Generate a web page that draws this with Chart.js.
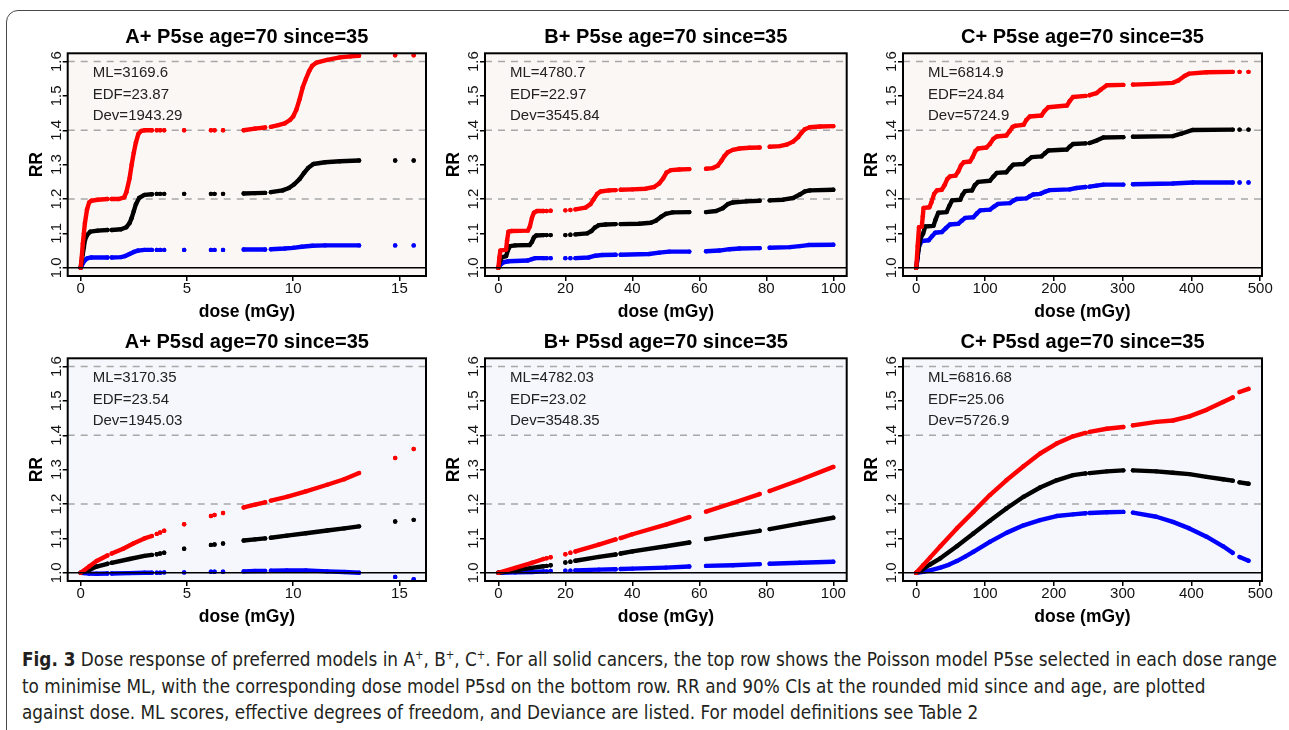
<!DOCTYPE html>
<html>
<head>
<meta charset="utf-8">
<script src="https://cdn.jsdelivr.net/npm/chart.js@4.4.1/dist/chart.umd.min.js"></script>
<style>
html, body { margin: 0; padding: 0; background: #fff; width: 1289px; height: 730px; overflow: hidden; }
#frame { position: absolute; left: 6px; top: 10px; width: 1320px; height: 800px; border: 1.3px solid #4a4a4a; border-radius: 12px; }
canvas { position: absolute; }
#cap { position: absolute; left: 22px; top: 646px; font-family: 'Liberation Sans Narrow', 'DejaVu Sans Condensed', 'Liberation Sans', sans-serif; font-size: 20px; line-height: 26.5px; color: #231f20; white-space: nowrap; transform-origin: 0 0; }
#cap sup { font-size: 12px; line-height: 0; vertical-align: 7px; }
</style>
</head>
<body>
<div id="frame"></div>
<div id="cap">
  <div><span id="line1"><b>Fig. 3</b> Dose response of preferred models in A<sup>+</sup>, B<sup>+</sup>, C<sup>+</sup>. For all solid cancers, the top row shows the Poisson model P5se selected in each dose range</span></div>
  <div>to minimise ML, with the corresponding dose model P5sd on the bottom row. RR and 90% CIs at the rounded mid since and age, are plotted</div>
  <div>against dose. ML scores, effective degrees of freedom, and Deviance are listed. For model definitions see Table 2</div>
</div>
<script>
// panel titles and fit statistics
const titles = [
    'A+ P5se age=70 since=35', 'B+ P5se age=70 since=35', 'C+ P5se age=70 since=35',
    'A+ P5sd age=70 since=35', 'B+ P5sd age=70 since=35', 'C+ P5sd age=70 since=35'
];
const statsASe = ['ML=3169.6', 'EDF=23.87', 'Dev=1943.29'];
const statsBSe = ['ML=4780.7', 'EDF=22.97', 'Dev=3545.84'];
const statsCSe = ['ML=6814.9', 'EDF=24.84', 'Dev=5724.9'];
const statsASd = ['ML=3170.35', 'EDF=23.54', 'Dev=1945.03'];
const statsBSd = ['ML=4782.03', 'EDF=23.02', 'Dev=3548.35'];
const statsCSd = ['ML=6816.68', 'EDF=25.06', 'Dev=5726.9'];

// axes
const xTicksA = [0, 5, 10, 15];
const xTicksB = [0, 20, 40, 60, 80, 100];
const xTicksC = [0, 100, 200, 300, 400, 500];
const xRangeA = [-0.61, 16.25];
const xRangeB = [-4, 104];
const xRangeC = [-19.3, 502.6];
const yTicks = [1.0, 1.1, 1.2, 1.3, 1.4, 1.5, 1.6];
const yRange = [0.976, 1.624];
const refLines = [1.2, 1.4, 1.6];
const baseLine = 1.0;

// [dose, RR] ; null = gap in the dose data
const aSeHi = [[0,1.0],[0.05,1.03],[0.1,1.07],[0.15,1.1],[0.2,1.13],[0.3,1.17],[0.4,1.19],[0.5,1.195],[0.8,1.198],[1.26,1.2],null,
    [1.46,1.2],[1.8,1.2],[2.05,1.205],[2.15,1.22],[2.3,1.26],[2.4,1.3],[2.5,1.335],[2.6,1.365],[2.72,1.39],[2.85,1.398],[3.0,1.4],[3.35,1.4],null,
    [3.58,1.4],null,[3.74,1.4],null,[3.93,1.4],null,[4.87,1.4],null,[6.13,1.4],null,[6.3,1.4],null,[6.7,1.4],null,
    [7.67,1.4],[8.2,1.405],[8.68,1.408],null,
    [8.95,1.41],[9.3,1.415],[9.6,1.42],[9.85,1.43],[10.0,1.44],[10.15,1.46],[10.3,1.49],[10.45,1.525],[10.6,1.55],[10.75,1.572],[10.9,1.588],[11.1,1.597],[11.6,1.605],[12.2,1.612],[12.7,1.615],[13.1,1.617],null,
    [14.8,1.618],null,[15.67,1.618]];
const aSeMid = [[0,1.0],[0.05,1.02],[0.1,1.04],[0.15,1.06],[0.2,1.08],[0.3,1.095],[0.45,1.105],[0.8,1.108],[1.26,1.11],null,
    [1.46,1.11],[1.9,1.112],[2.15,1.118],[2.3,1.13],[2.4,1.145],[2.5,1.165],[2.6,1.185],[2.75,1.203],[3.0,1.212],[3.35,1.214],null,
    [3.58,1.215],null,[3.74,1.215],null,[3.93,1.215],null,[4.87,1.215],null,[6.13,1.215],null,[6.3,1.215],null,[6.7,1.215],null,
    [7.67,1.216],[8.2,1.217],[8.68,1.218],null,
    [8.95,1.22],[9.5,1.225],[9.8,1.232],[10.05,1.243],[10.3,1.258],[10.5,1.275],[10.7,1.29],[10.95,1.302],[11.5,1.307],[12.2,1.31],[13.1,1.312],null,
    [14.8,1.312],null,[15.67,1.312]];
const aSeLo = [[0,1.0],[0.05,1.006],[0.1,1.013],[0.2,1.022],[0.3,1.027],[0.5,1.03],[1.26,1.03],null,
    [1.46,1.03],[1.9,1.031],[2.1,1.034],[2.3,1.04],[2.5,1.046],[2.7,1.05],[3.0,1.052],[3.35,1.052],null,
    [3.58,1.052],null,[3.74,1.052],null,[3.93,1.052],null,[4.87,1.052],null,[6.13,1.052],null,[6.3,1.052],null,[6.7,1.052],null,
    [7.67,1.053],[8.68,1.053],null,
    [8.95,1.054],[9.6,1.056],[10.0,1.058],[10.4,1.061],[10.9,1.064],[11.5,1.065],[13.1,1.065],null,
    [14.8,1.065],null,[15.67,1.065]];

const bSeHi = [[0,1.0],[0.3,1.03],[0.6,1.05],[2.3,1.053],[2.6,1.08],[3.0,1.105],[4,1.107],[8.8,1.108],[9.4,1.12],[10.0,1.145],[10.6,1.16],[11.5,1.165],[13.5,1.165],null,
    [14.4,1.165],null,[15.6,1.166],null,[20,1.167],null,[21.5,1.168],null,
    [23,1.17],[26,1.175],[27.5,1.185],[28.5,1.2],[29.5,1.215],[30.5,1.222],[33,1.225],[35,1.226],null,
    [36.5,1.227],[40,1.228],[44,1.23],[46.5,1.235],[48,1.245],[49.2,1.26],[50.2,1.277],[51.5,1.284],[54,1.286],[57,1.287],null,
    [62,1.288],[64,1.29],[65.5,1.297],[66.5,1.31],[67.5,1.325],[68.5,1.336],[70,1.343],[72,1.347],[75,1.349],[78,1.35],null,
    [81,1.352],[84,1.354],[86,1.358],[88,1.367],[89.5,1.38],[90.5,1.393],[91.5,1.403],[93,1.409],[96,1.411],[100,1.412]];
const bSeMid = [[0,1.0],[0.5,1.02],[1,1.03],[2.3,1.034],[2.8,1.05],[3.5,1.063],[5,1.065],[9.3,1.066],[10,1.075],[10.6,1.088],[11.3,1.094],[13.5,1.095],null,
    [14.4,1.095],null,[15.6,1.095],null,[20,1.095],null,[21.5,1.096],null,
    [23,1.097],[26.5,1.1],[27.8,1.107],[28.8,1.117],[30,1.124],[32,1.126],[35,1.127],null,
    [36.5,1.127],[42,1.128],[45.5,1.131],[47,1.137],[48.5,1.148],[50,1.157],[52,1.161],[57,1.162],null,
    [62,1.162],[65,1.165],[67,1.173],[68.5,1.185],[70,1.19],[74,1.193],[78,1.195],null,
    [81,1.196],[85,1.198],[88,1.203],[90,1.213],[91.5,1.222],[93,1.225],[100,1.227]];
const bSeLo = [[0,1.0],[0.5,1.008],[1.5,1.016],[3,1.019],[8.8,1.021],[10,1.025],[11,1.028],[13.5,1.028],null,
    [14.4,1.028],null,[15.6,1.028],null,[20,1.028],null,[21.5,1.028],null,
    [23,1.028],[27,1.03],[29,1.035],[31,1.037],[35,1.038],null,
    [36.5,1.038],[45,1.04],[48,1.044],[51,1.047],[57,1.047],null,
    [62,1.048],[66,1.05],[69,1.054],[72,1.056],[78,1.057],null,
    [81,1.058],[87,1.06],[90,1.063],[92.5,1.066],[100,1.067]];

const cSeHi = [[0,1.0],[2,1.063],[4,1.118],[8,1.12],[9.5,1.15],[10.6,1.174],[19,1.176],[22,1.19],[26,1.215],[30,1.225],[37,1.227],[41,1.24],[45,1.258],[49,1.266],[57,1.268],[61,1.28],[65,1.298],[69,1.307],[78,1.309],[82,1.322],[86,1.34],[90,1.347],[102,1.35],[107,1.36],[112,1.375],[117,1.382],[131,1.385],[136,1.398],[140,1.41],[144,1.413],[156,1.416],[160,1.43],[165,1.44],[182,1.443],[186,1.455],[192,1.467],[219,1.472],[223,1.485],[228,1.497],[246,1.5],null,
    [252,1.502],[262,1.508],[268,1.518],[277,1.531],[301,1.532],null,
    [315,1.533],[345,1.535],[373,1.538],[381,1.545],[390,1.558],[397,1.565],[422,1.569],[460,1.57],null,
    [470,1.57],null,[483,1.57]];
const cSeMid = [[0,1.0],[3,1.05],[6,1.085],[10,1.1],[13,1.12],[25,1.122],[28,1.14],[32,1.16],[44,1.162],[48,1.18],[52,1.196],[64,1.198],[67,1.212],[71,1.223],[81,1.225],[85,1.24],[90,1.25],[107,1.253],[112,1.265],[117,1.276],[131,1.278],[136,1.29],[141,1.3],[156,1.302],[162,1.313],[168,1.322],[182,1.324],[187,1.333],[192,1.341],[219,1.344],[223,1.352],[228,1.36],[246,1.362],null,
    [252,1.363],[262,1.37],[272,1.379],[301,1.38],null,
    [315,1.381],[373,1.383],[385,1.39],[402,1.401],[460,1.402],null,
    [470,1.402],null,[483,1.402]];
const cSeLo = [[0,1.0],[2,1.03],[3.4,1.06],[8,1.078],[18,1.08],[23,1.092],[27.6,1.102],[37,1.104],[43,1.115],[49,1.126],[61,1.128],[66,1.137],[71,1.145],[83,1.147],[88,1.158],[93,1.167],[107,1.169],[113,1.178],[119,1.186],[136,1.188],[141,1.195],[146,1.2],[160,1.202],[165,1.208],[170,1.213],[180,1.215],[187,1.221],[194,1.226],[223,1.228],[233,1.232],[246,1.235],null,
    [252,1.236],[262,1.239],[272,1.242],[301,1.242],null,
    [315,1.243],[373,1.245],[402,1.248],[460,1.248],null,
    [470,1.248],null,[483,1.248]];

const aSdHi = [[0,1.0],[0.4,1.018],[0.75,1.034],[1.26,1.05],null,
    [1.46,1.056],[2.0,1.07],[2.5,1.086],[3.0,1.1],[3.35,1.107],null,
    [3.58,1.113],null,[3.74,1.117],null,[3.93,1.122],null,[4.87,1.141],null,[6.13,1.165],null,[6.3,1.168],null,[6.7,1.174],null,
    [7.67,1.19],[8.2,1.198],[8.68,1.205],null,
    [8.95,1.21],[9.7,1.221],[10.6,1.237],[11.6,1.256],[12.4,1.272],[13.1,1.29],null,
    [14.8,1.334],null,[15.67,1.36]];
const aSdMid = [[0,1.0],[0.4,1.008],[0.75,1.018],[1.26,1.026],null,
    [1.46,1.029],[2.3,1.04],[3.0,1.049],[3.35,1.052],null,
    [3.58,1.054],null,[3.74,1.056],null,[3.93,1.058],null,[4.87,1.07],null,[6.13,1.081],null,[6.3,1.082],null,[6.7,1.085],null,
    [7.67,1.094],[8.2,1.097],[8.68,1.1],null,
    [8.95,1.102],[9.7,1.108],[10.6,1.115],[11.6,1.123],[12.4,1.129],[13.1,1.135],null,
    [14.8,1.149],null,[15.67,1.154]];
const aSdLo = [[0,1.0],[0.4,0.998],[0.75,0.997],[1.26,0.998],null,
    [1.46,0.998],[2.3,0.999],[3.0,1.0],[3.35,1.0],null,
    [3.58,1.0],null,[3.74,1.0],null,[3.93,1.001],null,[4.87,1.001],null,[6.13,1.003],null,[6.3,1.003],null,[6.7,1.003],null,
    [7.67,1.004],[8.2,1.005],[8.68,1.005],null,
    [8.95,1.006],[9.7,1.007],[10.6,1.007],[11.6,1.004],[12.4,1.002],[13.1,1.0],null,
    [14.8,0.988],null,[15.67,0.981]];

const bSdHi = [[0,1.0],[5,1.014],[10,1.029],[13.5,1.04],null,[14.4,1.042],null,[15.6,1.045],null,[20,1.054],null,[21.5,1.058],null,
    [23,1.062],[30,1.082],[35,1.097],null,[36.5,1.101],[40,1.112],[50,1.14],[57,1.162],null,
    [62,1.178],[70,1.203],[78,1.229],null,[81,1.238],[90,1.27],[100,1.308]];
const bSdMid = [[0,1.0],[5,1.007],[10,1.014],[13.5,1.019],null,[14.4,1.02],null,[15.6,1.022],null,[20,1.03],null,[21.5,1.032],null,
    [23,1.035],[30,1.046],[35,1.053],null,[36.5,1.056],[40,1.062],[50,1.077],[57,1.088],null,
    [62,1.098],[70,1.11],[78,1.122],null,[81,1.127],[90,1.143],[100,1.16]];
const bSdLo = [[0,1.0],[5,1.001],[10,1.002],[13.5,1.004],null,[14.4,1.004],null,[15.6,1.005],null,[20,1.006],null,[21.5,1.006],null,
    [23,1.007],[30,1.009],[35,1.01],null,[36.5,1.011],[40,1.012],[50,1.015],[57,1.018],null,
    [62,1.02],[70,1.022],[78,1.025],null,[81,1.026],[90,1.029],[100,1.032]];

const cSdHi = [[0,1.0],[10,1.022],[20,1.044],[35,1.077],[59,1.129],[83,1.177],[107,1.226],[131,1.269],[156,1.31],[180,1.347],[204,1.376],[228,1.397],[246,1.407],null,
    [252,1.41],[277,1.419],[301,1.424],null,
    [315,1.429],[349,1.439],[373,1.443],[397,1.455],[422,1.474],[446,1.497],[460,1.51],null,[470,1.526],[483,1.535]];
const cSdMid = [[0,1.0],[10,1.011],[20,1.024],[35,1.042],[59,1.077],[83,1.114],[107,1.151],[131,1.187],[156,1.221],[180,1.248],[204,1.269],[228,1.284],[246,1.289],null,
    [252,1.29],[277,1.295],[301,1.298],null,
    [315,1.298],[349,1.295],[373,1.291],[397,1.287],[422,1.279],[446,1.272],[460,1.268],null,[470,1.263],[483,1.259]];
const cSdLo = [[0,1.0],[10,1.003],[20,1.007],[35,1.015],[47,1.023],[59,1.034],[71,1.047],[83,1.061],[107,1.09],[131,1.116],[156,1.138],[180,1.153],[204,1.165],[228,1.17],[246,1.173],null,
    [252,1.174],[277,1.176],[301,1.177],null,
    [315,1.175],[349,1.163],[373,1.148],[397,1.129],[422,1.105],[446,1.077],[460,1.058],null,[470,1.046],[483,1.035]];

// layout of the plot boxes (px)
const colBox = [[67.7, 426], [485, 846.7], [903, 1262]];
const rowBox = [[53.3, 276], [358.3, 581]];
const rowBg = ['#fbf7f4', '#f5f7fc'];

const panels = [
    {title: titles[0], stats: statsASe, hi: aSeHi, mid: aSeMid, lo: aSeLo, xr: xRangeA, xt: xTicksA, col: 0, row: 0},
    {title: titles[1], stats: statsBSe, hi: bSeHi, mid: bSeMid, lo: bSeLo, xr: xRangeB, xt: xTicksB, col: 1, row: 0},
    {title: titles[2], stats: statsCSe, hi: cSeHi, mid: cSeMid, lo: cSeLo, xr: xRangeC, xt: xTicksC, col: 2, row: 0},
    {title: titles[3], stats: statsASd, hi: aSdHi, mid: aSdMid, lo: aSdLo, xr: xRangeA, xt: xTicksA, col: 0, row: 1},
    {title: titles[4], stats: statsBSd, hi: bSdHi, mid: bSdMid, lo: bSdLo, xr: xRangeB, xt: xTicksB, col: 1, row: 1},
    {title: titles[5], stats: statsCSd, hi: cSdHi, mid: cSdMid, lo: cSdLo, xr: xRangeC, xt: xTicksC, col: 2, row: 1},
];

const FONT = "'Liberation Sans', Arial, Helvetica, sans-serif";
Chart.defaults.font.family = FONT;

function toPoints(arr) {
    let lastX = 0;
    return arr.map(p => {
        if (p === null) return {x: lastX, y: null};
        lastX = p[0];
        return {x: p[0], y: p[1]};
    });
}

function series(arr, color) {
    return {
        data: toPoints(arr),
        showLine: true,
        spanGaps: false,
        borderColor: color,
        backgroundColor: color,
        borderWidth: 4.4,
        borderCapStyle: 'round',
        borderJoinStyle: 'round',
        pointRadius: 2.2,
        pointBorderWidth: 0,
        pointHoverRadius: 0,
        pointBackgroundColor: color,
    };
}

const panelDecor = {
    id: 'panelDecor',
    beforeDraw(chart, args, opts) {
        const {ctx, chartArea: a} = chart;
        ctx.save();
        ctx.fillStyle = opts.bg;
        ctx.fillRect(a.left, a.top, a.width, a.height);
        ctx.restore();
    },
    beforeDatasetsDraw(chart) {
        const {ctx, chartArea: a, scales: {y}} = chart;
        ctx.save();
        ctx.strokeStyle = '#a8a8a8';
        ctx.lineWidth = 1.5;
        ctx.setLineDash([7, 6]);
        refLines.forEach(v => {
            const py = y.getPixelForValue(v);
            ctx.beginPath();
            ctx.moveTo(a.left, py);
            ctx.lineTo(a.right, py);
            ctx.stroke();
        });
        ctx.restore();
    },
    afterDraw(chart, args, opts) {
        const {ctx, chartArea: a, scales: {y}} = chart;
        ctx.save();
        // reference line at RR = 1
        const py = y.getPixelForValue(baseLine);
        ctx.strokeStyle = '#000';
        ctx.lineWidth = 1.6;
        ctx.beginPath();
        ctx.moveTo(a.left, py);
        ctx.lineTo(a.right, py);
        ctx.stroke();
        // box
        ctx.lineWidth = 2;
        ctx.strokeRect(a.left, a.top, a.width, a.height);

        ctx.fillStyle = '#000';
        ctx.textBaseline = 'middle';
        ctx.textAlign = 'center';
        const cx = (a.left + a.right) / 2;
        ctx.font = 'bold 20px ' + FONT;
        ctx.fillText(opts.title, cx, a.top - 15.5);
        ctx.font = 'bold 17.5px ' + FONT;
        ctx.fillText('dose (mGy)', cx, a.bottom + 36);
        ctx.save();
        ctx.translate(a.left - 31, (a.top + a.bottom) / 2);
        ctx.rotate(-Math.PI / 2);
        ctx.fillText('RR', 0, 0);
        ctx.restore();

        ctx.textAlign = 'left';
        ctx.font = '15px ' + FONT;
        ctx.fillStyle = '#222';
        opts.stats.forEach((s, i) => ctx.fillText(s, a.left + 25, a.top + 20 + i * 21.2));
        ctx.restore();
    }
};

panels.forEach(p => {
    const [l, r] = colBox[p.col];
    const [t, b] = rowBox[p.row];
    const left = Math.floor(l - 67), top = Math.floor(t - 50);
    const width = Math.ceil(r - left + 25), height = Math.ceil(b - top + 55);
    const canvas = document.createElement('canvas');
    canvas.width = width;
    canvas.height = height;
    canvas.style.left = left + 'px';
    canvas.style.top = top + 'px';
    document.body.appendChild(canvas);

    const yWidth = l - left;
    const xHeight = height - (b - top);

    new Chart(canvas.getContext('2d'), {
        type: 'scatter',
        data: {
            datasets: [
                series(p.hi, '#ff0000'),
                series(p.mid, '#000000'),
                series(p.lo, '#0000ff'),
            ],
        },
        options: {
            responsive: false,
            animation: false,
            events: [],
            layout: {
                autoPadding: false,
                padding: {left: 0, top: t - top, right: width - (r - left), bottom: 0},
            },
            plugins: {
                legend: {display: false},
                tooltip: {enabled: false},
                panelDecor: {bg: rowBg[p.row], title: p.title, stats: p.stats},
            },
            scales: {
                x: {
                    type: 'linear',
                    min: p.xr[0],
                    max: p.xr[1],
                    afterBuildTicks: s => { s.ticks = p.xt.map(v => ({value: v})); },
                    afterFit: s => { s.height = xHeight; },
                    ticks: {color: '#111', font: {size: 15}, padding: -1.5, maxRotation: 0, autoSkip: false},
                    grid: {drawOnChartArea: false, drawTicks: true, tickLength: 5, color: '#000', lineWidth: 1.5},
                    border: {display: false},
                },
                y: {
                    type: 'linear',
                    min: yRange[0],
                    max: yRange[1],
                    afterBuildTicks: s => { s.ticks = yTicks.map(v => ({value: v})); },
                    afterFit: s => { s.width = yWidth; },
                    ticks: {
                        color: '#111', font: {size: 15}, padding: -4.5,
                        minRotation: 90, maxRotation: 90, crossAlign: 'center', autoSkip: false,
                        callback: v => Number(v).toFixed(1),
                    },
                    grid: {drawOnChartArea: false, drawTicks: true, tickLength: 5, color: '#000', lineWidth: 1.5},
                    border: {display: false},
                },
            },
        },
        plugins: [panelDecor],
    });
});

// fit the caption's first line to the width it takes in the figure
const cap = document.getElementById('cap');
const w1 = document.getElementById('line1').getBoundingClientRect().width;
cap.style.transform = 'scaleX(' + (1255 / w1) + ')';
</script>
</body>
</html>
